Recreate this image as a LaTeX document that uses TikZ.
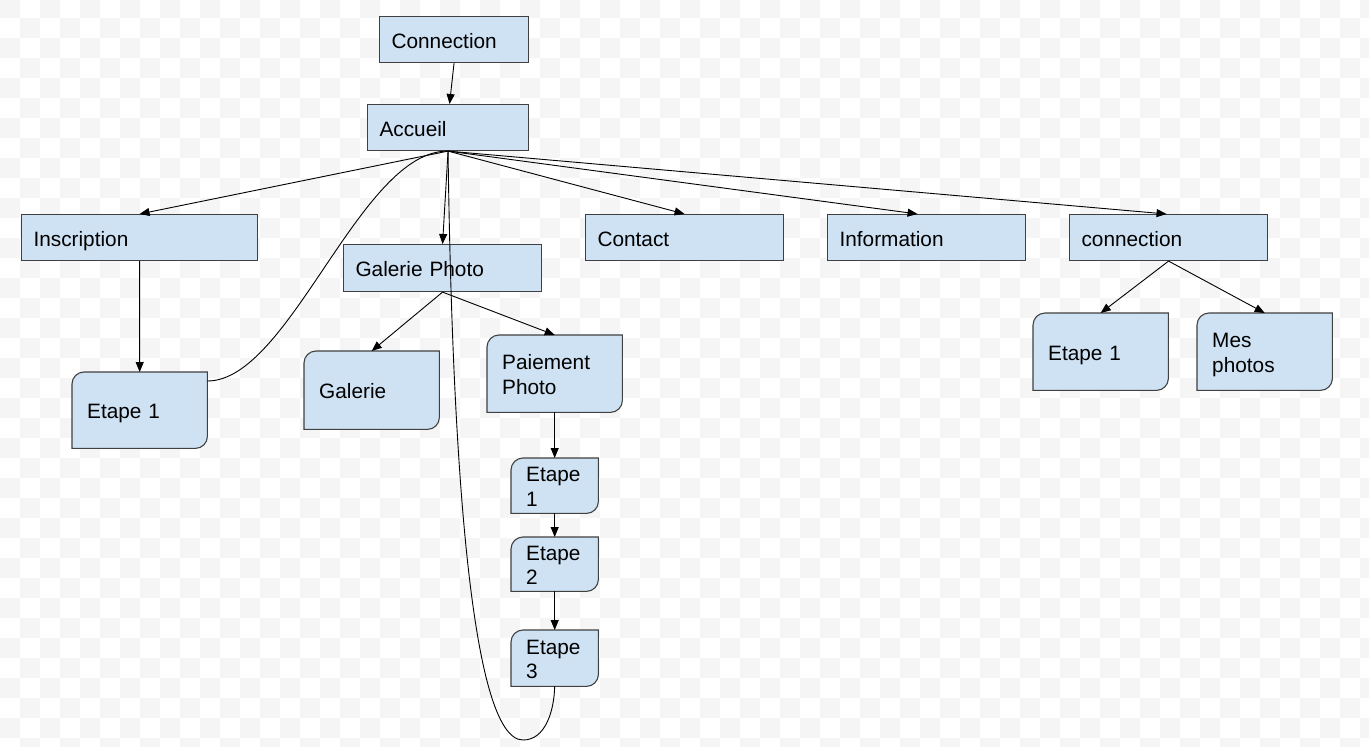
\documentclass[tikz,border=0pt]{standalone}
\usepackage{fontspec}
\setmainfont{Liberation Sans}
\usetikzlibrary{arrows.meta}
\definecolor{boxfill}{HTML}{CFE2F3}
\definecolor{boxline}{HTML}{404040}
\definecolor{checker}{HTML}{F5F5F5}
\pgfdeclarelayer{bg}
\pgfsetlayers{bg,main}
\tikzset{
  base/.style={anchor=north west, inner ysep=0pt, align=left,
    font=\fontsize{20.8}{24.5}\selectfont, text=black,
    % fixed line box so every label sits at the same height
    execute at begin node={\rule{0pt}{21.9pt}},
    execute at end node={\rule[-5pt]{0pt}{5pt}}},
  topbox/.style={base, draw=boxline, fill=boxfill, line width=1.1pt,
    inner xsep=12pt, minimum height=46pt},
  tabbox/.style={base, inner xsep=15pt},
  tabshape/.style={draw=boxline, fill=boxfill, line width=1.1pt},
  link/.style={draw=black, line width=0.9pt, -{Triangle[length=10pt,width=8pt]}},
  curve/.style={draw=black, line width=0.9pt},
}
\begin{document}
\begin{tikzpicture}[x=1pt,y=-1pt]
\useasboundingbox (0,0) rectangle (1369,747);

% checkered backdrop
\begin{pgfonlayer}{bg}
  \begin{scope}
    \clip (0,0) rectangle (1369,747);
    \fill[white] (0,0) rectangle (1369,747);
    \foreach \j in {0,2,...,38}{
      \foreach \i in {0,2,...,68}{
        \fill[checker] (20*\i,20*\j-1.7) rectangle ++(20,20);
        \fill[checker] (20*\i+20,20*\j+18.3) rectangle ++(20,20);
      }
    }
  \end{scope}
\end{pgfonlayer}

% plain rectangles
\node[topbox, text width=125pt] (cnx)  at (379,16)  {Connection};
\node[topbox, text width=137pt] (acc)  at (367,104) {Accueil};
\node[topbox, text width=212pt] (ins)  at (21,214)  {Inscription};
\node[topbox, text width=174pt, minimum height=47pt] (gp) at (343,244) {Galerie Photo};
\node[topbox, text width=174pt] (ctc)  at (585,214) {Contact};
\node[topbox, text width=174pt] (inf)  at (827,214) {Information};
\node[topbox, text width=174pt] (cn2)  at (1069,214) {connection};

% tab-shaped boxes (rounded top-left and bottom-right)
\node[tabbox, text width=105pt, minimum height=76pt] (ins1) at (72,372)  {Etape 1};
\node[tabbox, text width=105pt, minimum height=78pt] (gal)  at (304,351) {Galerie};
\node[tabbox, text width=105pt, minimum height=77pt] (pay)  at (487,335) {Paiement\\Photo};
\node[tabbox, text width=57pt,  minimum height=55pt] (pay1) at (511,458) {Etape\\1};
\node[tabbox, text width=57pt,  minimum height=54pt] (pay2) at (511,537) {Etape\\2};
\node[tabbox, text width=57pt,  minimum height=56pt] (pay3) at (511,630) {Etape\\3};
\node[tabbox, text width=105pt, minimum height=77pt] (cn21) at (1033,313) {Etape 1};
\node[tabbox, text width=105pt, minimum height=77pt] (mes)  at (1197,313) {Mes\\photos};

\begin{pgfonlayer}{bg}
  \foreach \n in {ins1,gal,pay,pay1,pay2,pay3,cn21,mes}{
    \path[tabshape] (\n.south west) -- ([yshift=-12pt]\n.north west)
      arc[start angle=180,end angle=90,radius=12pt] -- (\n.north east)
      -- ([yshift=12pt]\n.south east)
      arc[start angle=0,end angle=-90,radius=12pt] -- cycle;
  }
\end{pgfonlayer}

% arrows
\draw[link] (cnx.south) -- ([xshift=1.5pt]acc.north);
\draw[link] (acc.south) -- (ins.north);
\draw[link] (acc.south) -- (gp.north);
\draw[link] (acc.south) -- (ctc.north);
\draw[link] (acc.south) -- ([xshift=-9pt]inf.north);
\draw[link] (acc.south) -- ([xshift=-2pt]cn2.north);
\draw[link] (ins.south) -- (ins1.north);
\draw[link] (gp.south) -- (gal.north);
\draw[link] (gp.south) -- (pay.north);
\draw[link] (pay.south) -- (pay1.north);
\draw[link] (pay1.south) -- (pay2.north);
\draw[link] (pay2.south) -- (pay3.north);
\draw[link] (cn2.south) -- (cn21.north);
\draw[link] (cn2.south) -- (mes.north);

% return curves
\coordinate (loopbottom) at (523,740);
\draw[curve] ([yshift=-9pt]ins1.north east) .. controls (290,381) and (360,150) .. (acc.south);
\draw[curve] (acc.south) .. controls (452,450) and (470,740) .. (loopbottom)
  .. controls (545,740) and (554,712) .. (pay3.south);
\end{tikzpicture}
\end{document}
